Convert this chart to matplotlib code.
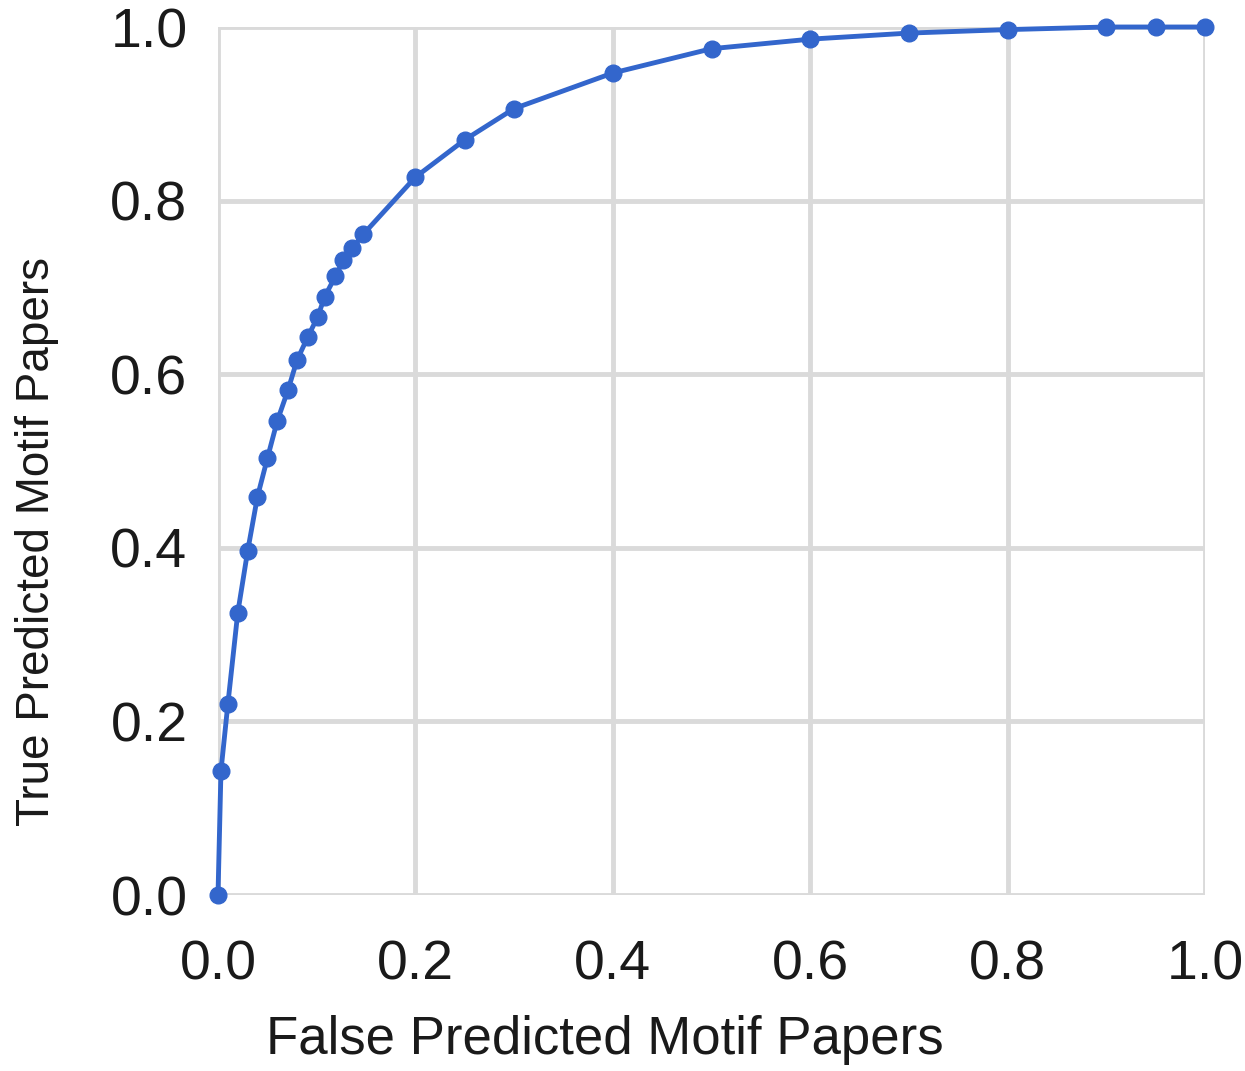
import matplotlib.pyplot as plt

# Curva ROC (leitura aproximada do gráfico)
fpr = [0.0, 0.003, 0.01, 0.02, 0.03, 0.04, 0.05, 0.06, 0.071, 0.08, 0.091, 0.101,
       0.108, 0.119, 0.127, 0.136, 0.147, 0.2, 0.25, 0.3, 0.4, 0.5, 0.6, 0.7,
       0.8, 0.9, 0.95, 1.0]
tpr = [0.0, 0.143, 0.22, 0.325, 0.396, 0.459, 0.503, 0.546, 0.582, 0.616, 0.643, 0.666,
       0.689, 0.713, 0.731, 0.745, 0.761, 0.827, 0.870, 0.906, 0.947, 0.975, 0.986, 0.993,
       0.997, 1.0, 1.0, 1.0]

xticks = [0.0, 0.2, 0.4, 0.6, 0.8, 1.0]
yticks = [0.0, 0.2, 0.4, 0.6, 0.8, 1.0]

plt.rcParams['font.family'] = ['Liberation Sans', 'DejaVu Sans']

W, H = 1245, 1071
fig = plt.figure(figsize=(W / 100, H / 100), dpi=100)
ax = fig.add_axes([218 / W, 1 - 895 / H, (1205 - 218) / W, (895 - 27) / H])

ax.plot(fpr, tpr, color='#3366cc', linewidth=3.5, marker='o', markersize=12,
        clip_on=False, zorder=3)

ax.set_xlim(0, 1)
ax.set_ylim(0, 1)
ax.set_xticks(xticks)
ax.set_yticks(yticks)
ax.set_xticklabels([f"{t:.1f}" for t in xticks], fontsize=40, color='#1a1a1a')
ax.set_yticklabels([f"{t:.1f}" for t in yticks], fontsize=40, color='#1a1a1a')
ax.tick_params(axis='x', length=0, pad=32)
ax.tick_params(axis='y', length=0, pad=22)

ax.grid(True, color='#dadada', linewidth=3.5)
ax.set_axisbelow(True)
for s in ax.spines.values():
    s.set_visible(False)

# títulos dos eixos posicionados como na imagem original
fig.text(605 / W, 1 - 1040 / H, "False Predicted Motif Papers", fontsize=38,
         color='#1a1a1a', ha='center', va='center')
fig.text(37 / W, 1 - 541 / H, "True Predicted Motif Papers", fontsize=33,
         color='#1a1a1a', ha='center', va='center', rotation=90)

fig.savefig("out.png", dpi=100)
